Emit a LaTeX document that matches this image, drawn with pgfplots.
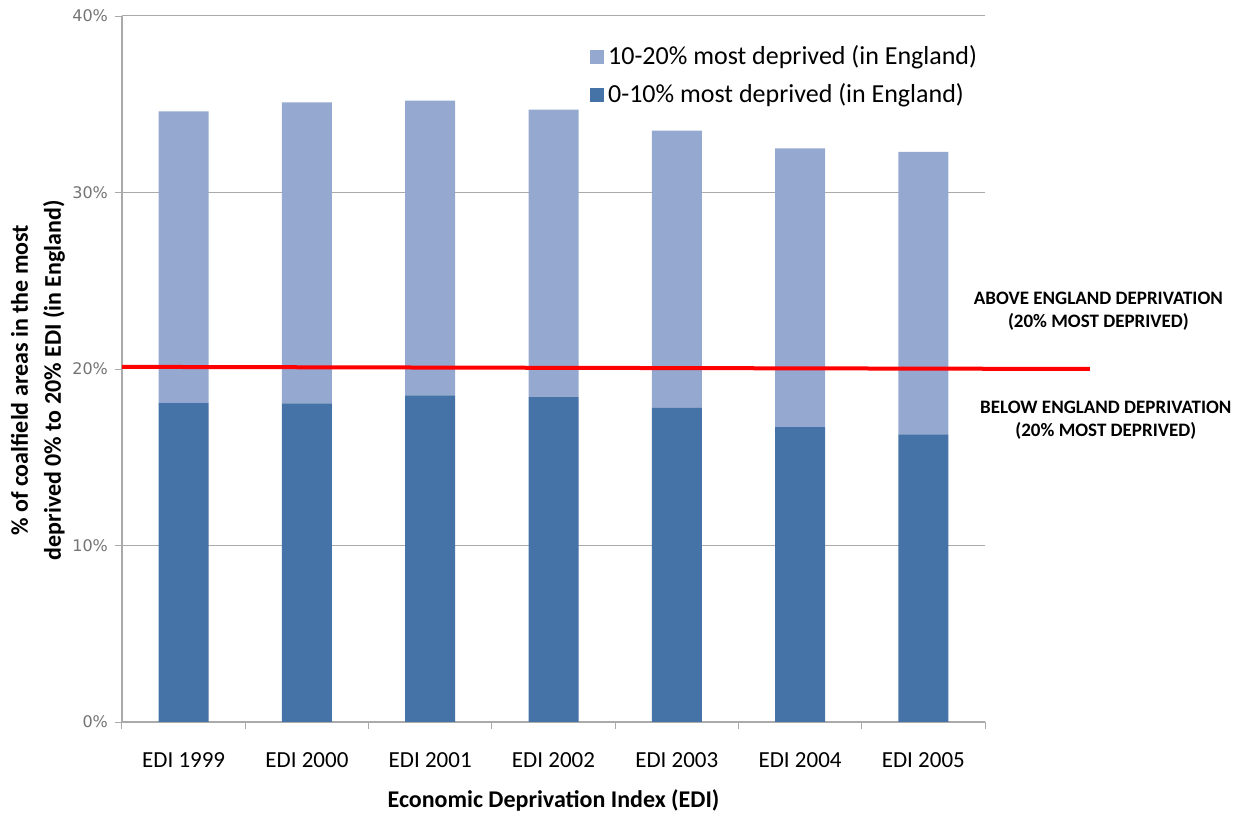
\documentclass[border=0pt]{standalone}
\usepackage{pgfplots}
\pgfplotsset{compat=1.18}
\usepackage{fontspec}
\setmainfont{Carlito}
\newfontfamily\tickfont{DejaVu Sans}
\definecolor{darkb}{RGB}{69,114,167}
\definecolor{lightb}{RGB}{149,169,208}
\definecolor{gridc}{RGB}{170,170,170}
\begin{document}
\begin{tikzpicture}
\useasboundingbox (-61pt,-47.5pt) rectangle (563pt,361pt);
\begin{axis}[
  at={(0,0)}, anchor=south west,
  scale only axis, width=431.5pt, height=353pt,
  ybar stacked, bar width=25pt,
  xmin=-0.5, xmax=6.5, ymin=0, ymax=40,
  xtick={-0.5,0.5,1.5,2.5,3.5,4.5,5.5,6.5},
  xticklabels={},
  major x tick style={gridc, line width=0.5pt},
  extra x ticks={0,...,6},
  extra x tick labels={EDI 1999,EDI 2000,EDI 2001,EDI 2002,EDI 2003,EDI 2004,EDI 2005},
  extra x tick style={major tick length=0pt, grid=none,
    tick label style={font=\fontsize{11.5}{13}\selectfont, yshift=-12pt}},
  ytick={0,10,20,30,40},
  yticklabels={0\%,10\%,20\%,30\%,40\%},
  y tick label style={font=\tickfont\fontsize{8}{9}\selectfont, text=gray!90!black},
  ymajorgrids, grid style={gridc, line width=0.5pt},
  major y tick style={gridc}, tick align=outside, major tick length=3.5pt,
  axis x line*=bottom, axis y line*=left,
  axis line style={gridc, line width=0.6pt},
  xlabel={\bfseries Economic Deprivation Index (EDI)},
  xlabel style={font=\fontsize{12}{13}\selectfont, at={(rel axis cs:0.5,0)}, anchor=center, yshift=-39pt},
  ylabel={\bfseries\% of coalfield areas in the most\\ \bfseries deprived 0\% to 20\% EDI (in England)},
  ylabel style={font=\fontsize{12}{16.5}\selectfont, align=center, at={(rel axis cs:0,0.484)}, anchor=center, yshift=42pt},
  clip=false,
  reverse legend,
  legend cell align=left,
  legend style={draw=none, fill=none, at={(rel axis cs:0.542,0.964)}, anchor=north west,
    font=\fontsize{13}{14}\selectfont, row sep=4pt, inner sep=0pt,
    nodes={inner xsep=2pt}},
  legend image code/.code={\fill[#1] (0pt,-3.5pt) rectangle (7pt,3.5pt);},
]
\addplot[fill=darkb, draw=none] coordinates {(0,18.1) (1,18.05) (2,18.5) (3,18.4) (4,17.8) (5,16.7) (6,16.3)};
\addlegendentry{0-10\% most deprived (in England)}
\addplot[fill=lightb, draw=none] coordinates {(0,16.5) (1,17.05) (2,16.7) (3,16.3) (4,15.7) (5,15.8) (6,16.0)};
\addlegendentry{10-20\% most deprived (in England)}
\end{axis}
\begin{axis}[
  at={(0,0)}, anchor=south west,
  scale only axis, width=431.5pt, height=353pt,
  xmin=-0.5, xmax=6.5, ymin=0, ymax=40,
  axis lines=none, clip=false,
]
\addplot[red, line width=2pt, no markers] coordinates {(-0.5,20.12) (7.35,20.0)};
\node[font=\bfseries\fontsize{9.5}{11.5}\selectfont, align=center, anchor=center] at (axis cs:7.42,23.3) {ABOVE ENGLAND DEPRIVATION\\(20\% MOST DEPRIVED)};
\node[font=\bfseries\fontsize{9.5}{11.5}\selectfont, align=center, anchor=center] at (axis cs:7.48,17.1) {BELOW ENGLAND DEPRIVATION\\(20\% MOST DEPRIVED)};
\end{axis}
\end{tikzpicture}
\end{document}
